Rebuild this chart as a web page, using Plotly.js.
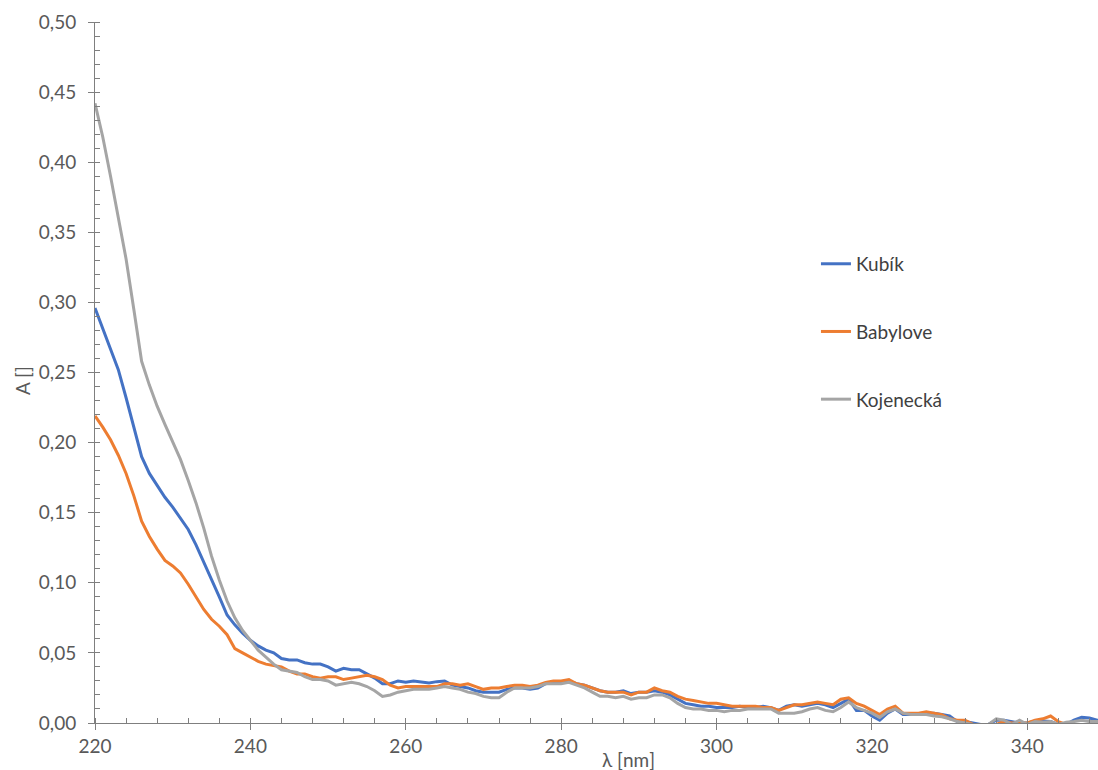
<!DOCTYPE html>
<html><head><meta charset="utf-8">
<script src="https://cdn.plot.ly/plotly-3.0.1.min.js"></script>
<style>html,body{margin:0;padding:0;background:#fff;overflow:hidden}</style>
</head><body><div id="chart" style="width:1098px;height:770px"></div>
<script>
const wavelength = [220,221,222,223,224,225,226,227,228,229,230,231,232,233,234,235,236,237,238,239,
240,241,242,243,244,245,246,247,248,249,250,251,252,253,254,255,256,257,258,259,
260,261,262,263,264,265,266,267,268,269,270,271,272,273,274,275,276,277,278,279,
280,281,282,283,284,285,286,287,288,289,290,291,292,293,294,295,296,297,298,299,
300,301,302,303,304,305,306,307,308,309,310,311,312,313,314,315,316,317,318,319,
320,321,322,323,324,325,326,327,328,329,330,331,332,333,334,335,336,337,338,339,
340,341,342,343,344,345,346,347,348,349,350];

const kubik = [0.296,0.281,0.266,0.252,0.232,0.211,0.190,0.178,0.169,0.161,
0.154,0.146,0.138,0.127,0.115,0.102,0.090,0.077,0.070,0.064,
0.059,0.055,0.052,0.050,0.046,0.045,0.045,0.043,0.042,0.042,
0.040,0.037,0.039,0.038,0.038,0.035,0.032,0.028,0.028,0.030,
0.029,0.030,0.029,0.0285,0.0295,0.030,0.027,0.026,0.025,0.023,
0.022,0.022,0.022,0.024,0.025,0.025,0.024,0.025,0.028,0.029,
0.029,0.030,0.028,0.027,0.025,0.023,0.022,0.022,0.023,0.021,
0.022,0.022,0.023,0.022,0.020,0.017,0.014,0.013,0.012,0.012,
0.011,0.011,0.011,0.012,0.011,0.011,0.012,0.011,0.009,0.012,
0.013,0.012,0.013,0.014,0.013,0.011,0.014,0.017,0.009,0.009,
0.005,0.002,0.007,0.010,0.006,0.006,0.006,0.007,0.007,0.006,
0.005,0.001,0.001,0.000,-0.001,-0.001,0.002,0.002,0.001,0.000,
0.000,0.0015,0.0015,0.001,-0.001,-0.001,0.002,0.004,0.0035,0.002,0.002];

const babylove = [0.219,0.211,0.202,0.191,0.178,0.162,0.144,0.133,0.124,0.116,
0.112,0.107,0.099,0.090,0.081,0.074,0.069,0.063,0.053,0.050,
0.047,0.044,0.042,0.041,0.040,0.037,0.035,0.035,0.033,0.032,
0.033,0.033,0.031,0.032,0.033,0.034,0.033,0.031,0.027,0.025,
0.026,0.026,0.026,0.026,0.026,0.028,0.028,0.027,0.028,0.026,
0.024,0.025,0.025,0.026,0.027,0.027,0.026,0.027,0.029,0.030,
0.030,0.031,0.028,0.027,0.025,0.023,0.022,0.022,0.022,0.020,
0.022,0.022,0.025,0.023,0.022,0.019,0.017,0.016,0.015,0.014,
0.014,0.013,0.012,0.012,0.012,0.012,0.011,0.011,0.009,0.011,
0.013,0.013,0.014,0.015,0.014,0.013,0.017,0.018,0.014,0.012,
0.009,0.006,0.010,0.012,0.007,0.007,0.007,0.008,0.007,0.006,
0.003,0.002,0.002,-0.001,-0.002,-0.003,-0.001,0.001,0.000,0.000,
0.000,0.002,0.003,0.005,0.001,-0.001,-0.001,-0.001,-0.001,-0.001,-0.001];

const kojenecka = [0.442,0.418,0.390,0.361,0.331,0.295,0.258,0.241,0.226,0.213,
0.201,0.188,0.173,0.157,0.139,0.119,0.102,0.087,0.075,0.066,
0.059,0.052,0.047,0.042,0.038,0.037,0.036,0.033,0.031,0.031,
0.030,0.027,0.028,0.029,0.028,0.026,0.023,0.019,0.020,0.022,
0.023,0.024,0.024,0.024,0.025,0.026,0.025,0.024,0.022,0.021,
0.019,0.018,0.018,0.022,0.025,0.025,0.025,0.026,0.028,0.028,
0.028,0.029,0.027,0.025,0.022,0.019,0.019,0.018,0.019,0.017,
0.018,0.018,0.020,0.020,0.018,0.014,0.011,0.010,0.010,0.009,
0.009,0.008,0.009,0.009,0.010,0.010,0.010,0.010,0.007,0.007,
0.007,0.008,0.010,0.011,0.009,0.008,0.011,0.015,0.011,0.009,
0.007,0.004,0.008,0.010,0.007,0.006,0.006,0.006,0.005,0.0045,
0.003,0.001,0.000,-0.001,-0.001,-0.001,0.003,0.002,-0.001,0.002,
-0.001,0.001,0.0005,0.001,-0.001,0.0005,0.001,0.002,0.001,0.001,0.001];

const seriesNames = ['Kubík','Babylove','Kojenecká'];
const seriesColors = ['#4472C4','#ED7D31','#A5A5A5'];
const seriesData = [kubik, babylove, kojenecka];

const axisColor = '#7f7f7f';
const textColor = '#595959';
const fontFamily = 'Lato, "Open Sans", sans-serif';

const traces = seriesData.map((vals, i) => ({
  type: 'scatter', mode: 'lines',
  x: wavelength, y: vals,
  name: seriesNames[i], legendgroup: 'g' + i,
  line: {color: seriesColors[i], width: 3}
}));

const xRange = [220, 349.1];
const yRange = [0, 0.5];

const layout = {
  width: 1098, height: 770,
  margin: {l: 95, r: 0, t: 22, b: 47},
  paper_bgcolor: '#ffffff', plot_bgcolor: '#ffffff',
  separators: ', ',
  font: {family: fontFamily, size: 19, color: textColor},
  showlegend: true,
  legend: {
    x: 0.7188, xanchor: 'left', y: 0.682, yanchor: 'top',
    traceorder: 'grouped', tracegroupgap: 40,
    font: {family: fontFamily, size: 19, color: '#404040'},
    bgcolor: 'rgba(0,0,0,0)', borderwidth: 0
  },
  xaxis: {
    range: xRange, tick0: 220, dtick: 20,
    ticks: 'outside', ticklen: 6, tickwidth: 1, tickcolor: axisColor,
    showline: true, linecolor: axisColor, linewidth: 1,
    showgrid: false, zeroline: false,
    tickfont: {family: fontFamily, size: 19, color: textColor},
    minor: {dtick: 4, tick0: 220, ticks: 'inside', ticklen: 5, tickcolor: axisColor, showgrid: false}
  },
  xaxis2: {
    overlaying: 'x', anchor: 'y', side: 'bottom',
    range: xRange, tick0: 220, dtick: 20,
    ticks: 'inside', ticklen: 6, tickwidth: 1, tickcolor: axisColor,
    showticklabels: false, showline: false, showgrid: false, zeroline: false
  },
  yaxis: {
    range: yRange, tick0: 0, dtick: 0.05, tickformat: '.2f',
    ticks: 'outside', ticklen: 6, tickwidth: 1, tickcolor: axisColor,
    showline: true, linecolor: axisColor, linewidth: 1,
    showgrid: false, zeroline: false,
    ticklabelstandoff: 8,
    tickfont: {family: fontFamily, size: 19, color: textColor},
    minor: {dtick: 0.01, tick0: 0, ticks: 'inside', ticklen: 5, tickcolor: axisColor, showgrid: false}
  },
  yaxis2: {
    overlaying: 'y', anchor: 'x', side: 'left',
    range: yRange, tick0: 0, dtick: 0.05,
    ticks: 'inside', ticklen: 6, tickwidth: 1, tickcolor: axisColor,
    showticklabels: false, showline: false, showgrid: false, zeroline: false
  },
  annotations: [
    {text: 'A []', xref: 'paper', yref: 'paper', x: -0.0728, y: 0.4893,
     xanchor: 'center', yanchor: 'middle', textangle: -90, showarrow: false,
     font: {family: fontFamily, size: 19, color: textColor}},
    {text: 'λ [nm]', xref: 'paper', yref: 'paper', x: 0.5316, y: -0.0514,
     xanchor: 'center', yanchor: 'middle', showarrow: false,
     font: {family: fontFamily, size: 19, color: textColor}}
  ]
};

Plotly.newPlot('chart', traces, layout, {displayModeBar: false, staticPlot: true});
</script>
</body></html>
